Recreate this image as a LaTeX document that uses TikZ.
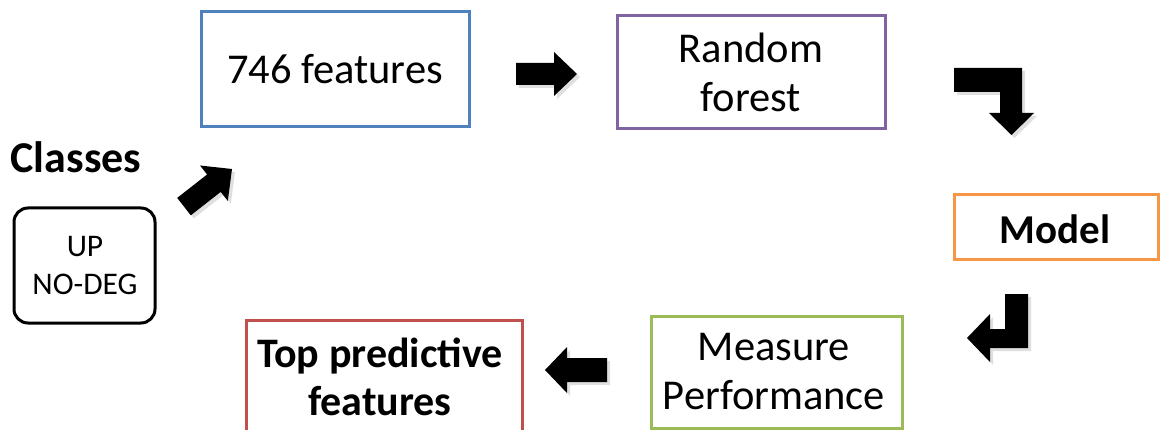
\documentclass[tikz,border=0pt]{standalone}
\usepackage{fontspec}
\setmainfont{Carlito}
\usetikzlibrary{shadows}
\definecolor{cblue}{HTML}{4F81BD}
\definecolor{cpurple}{HTML}{8064A2}
\definecolor{corange}{HTML}{F79646}
\definecolor{cgreen}{HTML}{9BBB59}
\definecolor{cred}{HTML}{C0504D}
\tikzset{
  box/.style={draw=#1, line width=3pt, fill=white, rectangle, inner sep=0pt},
  txt/.style={inner sep=0pt, align=center, font=\fontsize{42.5}{49}\selectfont},
  btxt/.style={inner sep=0pt, align=center, font=\fontsize{42}{48}\selectfont\bfseries},
  blockarrow/.style={fill=black, drop shadow={opacity=0.25, shadow xshift=3pt, shadow yshift=-3pt}},
}
\begin{document}
\begin{tikzpicture}[x=1pt,y=-1pt]
\useasboundingbox (0,0) rectangle (1164,430);
\fill[white] (0,0) rectangle (1164,430);
% boxes
\node[box=cblue, minimum width=268pt, minimum height=115pt] (b746) at (335,69.5) {};
\node[box=cpurple, minimum width=268pt, minimum height=113pt] (brf) at (751,72.5) {};
\node[box=corange, minimum width=204pt, minimum height=65pt] (bmodel) at (1056,227.5) {};
\node[box=cgreen, minimum width=251pt, minimum height=112pt] (bmeas) at (776.5,372) {};
\node[box=cred, minimum width=276pt, minimum height=140pt] (btop) at (384,390) {};
\node[draw=black, line width=3pt, rounded corners=14pt, minimum width=141pt, minimum height=115pt] (bclass) at (84.5,265.5) {};
% texts
\node[txt] (t746) at (335,69) {746 features};
\node[txt] (trf) at (751,72.5) {Random\\forest};
\node[btxt, font=\fontsize{41}{48}\selectfont\bfseries] (tmodel) at (1055,229) {Model};
\node[txt] (tmeas) at (774,372) {Measure\\Performance};
\node[btxt] (ttop) at (380,377) {Top predictive\\features};
\node[btxt, font=\fontsize{44}{48}\selectfont\bfseries] (tclasses) at (76,157) {Classes};
\node[txt, font=\fontsize{31.5}{38}\selectfont] (tclass) at (85,266) {UP\\NO-DEG};
% block arrows
\path[blockarrow] (177.2,197.9) -- (207.1,174.5) -- (200.0,165.5) -- (232,169) -- (227.8,200.9) -- (220.7,191.9) -- (190.8,215.3) -- cycle;
\path[blockarrow] (516,63) -- (554,63) -- (554,52) -- (577,74) -- (554,96) -- (554,85) -- (516,85) -- cycle;
\path[blockarrow] (954,68) -- (1022,68) -- (1022,113) -- (1034,113) -- (1011.5,135) -- (989,113) -- (1000,113) -- (1000,92) -- (954,92) -- cycle;
\path[blockarrow] (1005,294) -- (1028,294) -- (1028,348) -- (990,348) -- (990,362) -- (967,338) -- (990,314) -- (990,329) -- (1005,329) -- cycle;
\path[blockarrow] (607,358) -- (567,358) -- (567,347) -- (545,370) -- (567,393) -- (567,382) -- (607,382) -- cycle;
\end{tikzpicture}
\end{document}
